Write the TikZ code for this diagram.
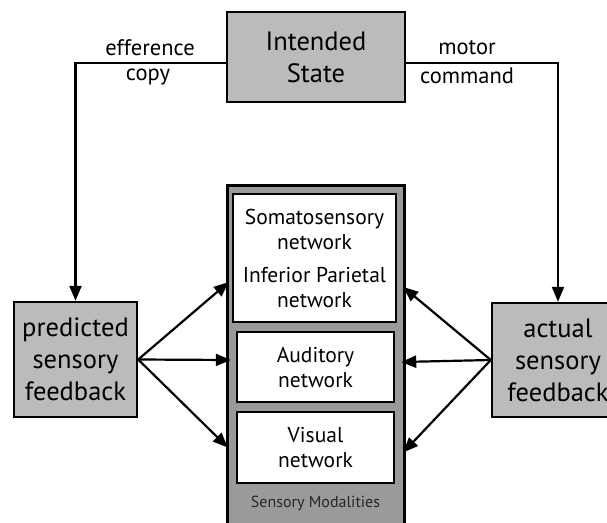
\documentclass[tikz,border=0pt]{standalone}
\usepackage{fontspec}
\setmainfont{PT Sans}
\usetikzlibrary{arrows.meta}
\definecolor{boxgray}{HTML}{BBBBBB}
\definecolor{modgray}{HTML}{9A9A9A}
\begin{document}
\begin{tikzpicture}[x=1pt,y=-1pt,
  box/.style={draw=black, line width=2.4pt, fill=boxgray, align=center,
    inner sep=0pt, font=\fontsize{26.5}{32}\selectfont},
  netbox/.style={draw=black, line width=2.4pt, fill=white, align=center,
    inner sep=0pt, font=\fontsize{21.5}{25}\selectfont},
  conn/.style={line width=2.4pt, line cap=rect},
  arr/.style={line width=2.2pt, -{Triangle[length=15pt,width=12pt]}},
  lbl/.style={font=\fontsize{22.5}{24}\selectfont, inner sep=0pt}]
\useasboundingbox (0,0) rectangle (607,522);

% top: intended state and its two outgoing signals
\node[box, minimum width=178, minimum height=90] (intended) at (316,57)
  {Intended\\State};
\node[lbl] (effl) at (150,48) {efference};
\node[lbl] (effc) at (148,77) {copy};
\node[lbl] (motl) at (467,48) {motor};
\node[lbl] (motc) at (467,76) {command};

% side boxes
\node[box, minimum width=123, minimum height=115] (pred) at (75.5,359.5)
  {predicted\\sensory\\feedback};
\node[box, minimum width=132, minimum height=114] (actual) at (558,360)
  {actual\\sensory\\feedback};

% sensory modalities column
\node[draw=black, line width=3pt, fill=modgray, minimum width=177,
  minimum height=360, inner sep=0pt] (modal) at (315.5,365) {};
\node[netbox, minimum width=163, minimum height=128] (somato) at (314.5,258)
  {Somatosensory\\network\\[8pt]Inferior Parietal\\network};
\node[netbox, minimum width=157, minimum height=70] (audit) at (315.5,367)
  {Auditory\\network};
\node[netbox, minimum width=157, minimum height=71] (visual) at (315.5,447.5)
  {Visual\\network};
\node[font=\fontsize{16}{18}\selectfont, inner sep=0pt, text=black!85]
  (modlbl) at (315.5,503) {Sensory Modalities};

% efference copy and motor command paths
\draw[conn] ([yshift=-6pt]intended.west) -| ([yshift=16pt]pred.north);
\draw[arr] ([yshift=17pt]pred.north) -- (pred.north);
\draw[conn] ([yshift=-6pt]intended.east) -| ([yshift=16pt]actual.north);
\draw[arr] ([yshift=17pt]actual.north) -- (actual.north);

% predicted feedback to each network
\draw[arr] (pred.east) -- ([xshift=-3pt,yshift=-24pt]somato.west);
\draw[arr] (pred.east) -- ([xshift=-5pt,yshift=7pt]audit.west);
\draw[arr] (pred.east) -- ([xshift=-8pt]visual.west);

% actual feedback to each network
\draw[arr] (actual.west) -- ([xshift=6pt,yshift=-29pt]somato.east);
\draw[arr] (actual.west) -- ([xshift=6pt,yshift=5pt]audit.east);
\draw[arr] (actual.west) -- ([xshift=8pt,yshift=-5pt]visual.east);
\end{tikzpicture}
\end{document}
